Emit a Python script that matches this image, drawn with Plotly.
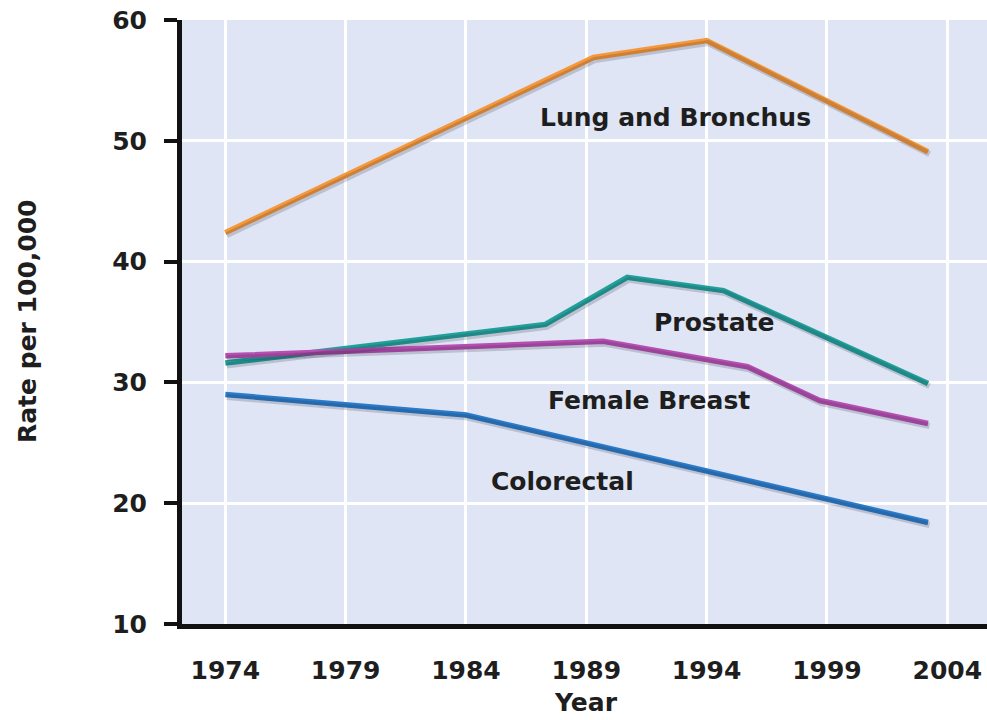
import plotly.graph_objects as go

# Incidence rates per 100,000 (joinpoint trend lines)
lung_years = [1974, 1989.3, 1994, 2003.2]
lung_rates = [42.4, 56.9, 58.3, 49.1]

prostate_years = [1974, 1987.3, 1990.7, 1994.7, 2003.2]
prostate_rates = [31.6, 34.8, 38.7, 37.6, 29.9]

breast_years = [1974, 1989.7, 1995.7, 1998.7, 2003.2]
breast_rates = [32.2, 33.4, 31.3, 28.5, 26.6]

colorectal_years = [1974, 1984, 2003.2]
colorectal_rates = [29.0, 27.3, 18.4]

series_names = ["Lung and Bronchus", "Prostate", "Female Breast", "Colorectal"]
series_colors = ["#f4983a", "#21a09a", "#b64fb1", "#2a7bc9"]

# label anchor positions (year, rate)
label_years = [1992.7, 1994.3, 1991.6, 1988.0]
label_rates = [51.9, 35.0, 28.5, 21.8]

x_ticks = [1974, 1979, 1984, 1989, 1994, 1999, 2004]
y_ticks = [10, 20, 30, 40, 50, 60]

X_RANGE = [1972.2, 2005.65]
Y_RANGE = [10, 60]

FONT = "Verdana, DejaVu Sans, sans-serif"
TEXT_COLOR = "#1e1e1e"

data = [
    (lung_years, lung_rates),
    (prostate_years, prostate_rates),
    (breast_years, breast_rates),
    (colorectal_years, colorectal_rates),
]

fig = go.Figure()

# soft drop shadow: same data on an overlay axis pair nudged a few pixels
px_per_year = 805 / (X_RANGE[1] - X_RANGE[0])
px_per_unit = 604 / (Y_RANGE[1] - Y_RANGE[0])
dx, dy = 1.5 / px_per_year, 2.5 / px_per_unit
for (xs, ys) in data:
    fig.add_trace(go.Scatter(
        x=xs, y=ys, mode="lines", xaxis="x2", yaxis="y2",
        line=dict(color="rgba(30,30,50,0.18)", width=6),
        hoverinfo="skip", showlegend=False,
    ))

for (xs, ys), name, color in zip(data, series_names, series_colors):
    fig.add_trace(go.Scatter(
        x=xs, y=ys, mode="lines", name=name,
        line=dict(color=color, width=5.5),
        showlegend=False,
    ))

for name, lx, ly in zip(series_names, label_years, label_rates):
    fig.add_annotation(
        x=lx, y=ly, xref="x", yref="y", text=name, showarrow=False,
        font=dict(family=FONT, size=25, color=TEXT_COLOR, weight="bold"),
        xanchor="center", yanchor="middle",
    )

# axis titles
fig.add_annotation(
    x=0, y=0.5, xref="paper", yref="paper", text="Rate per 100,000",
    textangle=-90, showarrow=False, xshift=-155,
    font=dict(family=FONT, size=25, color=TEXT_COLOR, weight="bold"),
    xanchor="center", yanchor="middle",
)
fig.add_annotation(
    x=1989, y=0, xref="x", yref="paper", text="Year", showarrow=False,
    yshift=-78,
    font=dict(family=FONT, size=25, color=TEXT_COLOR, weight="bold"),
    xanchor="center", yanchor="middle",
)

tick_font = dict(family=FONT, size=25, color=TEXT_COLOR, weight="bold")

fig.update_layout(
    width=987, height=720,
    margin=dict(l=182, r=0, t=20, b=96),
    paper_bgcolor="white",
    plot_bgcolor="#dfe5f4",
    xaxis=dict(
        range=X_RANGE, tickvals=x_ticks, ticktext=[str(v) for v in x_ticks],
        showgrid=True, gridcolor="white", gridwidth=3,
        showline=True, linecolor="#111111", linewidth=5,
        ticks="outside", ticklen=20, tickcolor="rgba(0,0,0,0)",
        tickfont=tick_font, zeroline=False, fixedrange=True,
    ),
    yaxis=dict(
        range=Y_RANGE, tickvals=y_ticks, ticktext=[str(v) for v in y_ticks],
        showgrid=True, gridcolor="white", gridwidth=3,
        showline=True, linecolor="#111111", linewidth=5,
        ticks="outside", ticklen=13, tickwidth=4, tickcolor="#111111",
        ticklabelstandoff=12,
        tickfont=tick_font, zeroline=False, fixedrange=True,
    ),
    xaxis2=dict(
        range=[X_RANGE[0] - dx, X_RANGE[1] - dx], overlaying="x",
        visible=False, fixedrange=True,
    ),
    yaxis2=dict(
        range=[Y_RANGE[0] + dy, Y_RANGE[1] + dy], overlaying="y",
        visible=False, fixedrange=True,
    ),
)

fig.write_html("out.html")
